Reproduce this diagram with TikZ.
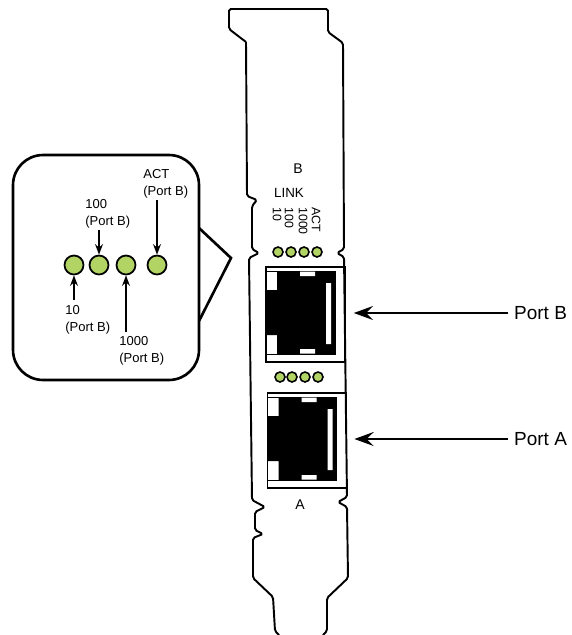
\documentclass[tikz,border=0pt]{standalone}
\usepackage{fontspec}
\setmainfont{Liberation Sans}
\usetikzlibrary{arrows.meta}

\definecolor{ledgreen}{RGB}{178,212,100}

\tikzset{
	card/.style={line width=1.1pt, line join=round, rounded corners=1pt},
	portbox/.style={draw, line width=1pt, minimum width=1.58cm, minimum height=1.9cm, inner sep=0},
	led/.style={circle, draw, line width=0.9pt, fill=ledgreen, minimum size=0.2cm, inner sep=0},
	bigled/.style={circle, draw, line width=1pt, fill=ledgreen, minimum size=0.38cm, inner sep=0},
	tag/.style={inner sep=0, align=left, font=\fontsize{7.4}{9.6}\selectfont},
	ledtag/.style={inner sep=0, rotate=-90, anchor=west, font=\fontsize{7}{8}\selectfont},
	ptr/.style={line width=1pt, -{Stealth[length=6pt, width=4.5pt, inset=2pt]}},
	portptr/.style={line width=1.1pt, -{Stealth[length=11pt, width=8pt, inset=4pt]}},
}

% one RJ45 jack, drawn inside a port box
\newcommand{\rjjack}[1]{%
	\begin{scope}[shift={(#1.north west)}]
		\draw[line width=0.6pt] (1,5) rectangle (70,88);
		\fill (12,5) -- (70,5) -- (70,88) -- (12,88) -- (12,69) -- (1,69) -- (1,24) -- (12,24) -- cycle;
		\fill[white] (35,5.5) rectangle (50,10) (35,83) rectangle (50,87.5) (61,17) rectangle (66,78);
	\end{scope}}

\begin{document}
\begin{tikzpicture}[x=0.02cm, y=-0.02cm]
	\useasboundingbox (0,0) rectangle (571,635);

	% bracket outline
	\draw[card] (246,42) -- (229,29) -- (229,9) -- (328,9) -- (328,32) -- (343,43)
		-- (344,249) -- (337,253) -- (344,257) -- (347,497) -- (338,502) -- (347,507)
		-- (348,578) -- (327,598) -- (327,631) -- (323,635);
	\draw[card] (246,42) -- (247,196) -- (257,200) -- (252,206) -- (252,249) -- (259,253) -- (249,258)
		-- (252,500) -- (265,507) -- (255,512) -- (255,530) -- (263,534) -- (253,538)
		-- (253,578) -- (273,597) -- (275,631) -- (279,635);

	\node[inner sep=0, font=\fontsize{8}{9}\selectfont] (labB) at (298,169) {B};
	\node[inner sep=0, font=\fontsize{7.6}{9}\selectfont] (link) at (289,193) {LINK};
	\node[ledtag] (s10) at (277,207) {10};
	\node[ledtag] (s100) at (289,207) {100};
	\node[ledtag] (s1000) at (303,207) {1000};
	\node[ledtag] (sact) at (316,207) {ACT};

	\foreach \i/\x in {1/278,2/291,3/304,4/317}
		\node[led] (b\i) at (\x,252) {};
	\foreach \i/\x in {1/280,2/292,3/305,4/318}
		\node[led] (a\i) at (\x,377) {};

	\node[portbox] (portB) at (305.5,314.5) {};
	\node[portbox] (portA) at (307,440.5) {};
	\rjjack{portB}
	\rjjack{portA}

	\node[inner sep=0, font=\fontsize{8}{9}\selectfont] (labA) at (300,505) {A};

	\node[anchor=west, font=\fontsize{10.8}{13}\selectfont] (nameB) at (508,313) {Port B};
	\node[anchor=west, font=\fontsize{10.8}{13}\selectfont] (nameA) at (508,439) {Port A};
	\draw[portptr, shorten >=4.5pt] (nameB.west) -- (nameB.west -| portB.east);
	\draw[portptr, shorten >=4pt] (nameA.west) -- (nameA.west -| portA.east);

	% zoomed view of the Port B LEDs
	\node[draw, line width=1.5pt, rounded corners=0.6cm, minimum width=3.72cm, minimum height=4.5cm] (zoombox) at (106,267.5) {};
	\draw[line width=1.5pt, line join=miter] (199,228) -- (231,258) -- (199,321);

	\foreach \i/\x in {1/74,2/99,3/126,4/157}
		\node[bigled] (z\i) at (\x,265) {};

	\node[tag, anchor=west] (tact) at (143,184) {ACT\\(Port B)};
	\node[tag, anchor=west] (t100) at (85,213.5) {100\\(Port B)};
	\node[tag, anchor=west] (t10) at (65,319.5) {10\\(Port B)};
	\node[tag, anchor=west] (t1000) at (119,350.5) {1000\\(Port B)};

	\coordinate (pact) at (157,200);
	\coordinate (p100) at (99,230);
	\coordinate (p10) at (74,300);
	\coordinate (p1000) at (126,332);
	\draw[ptr] (pact) -- (z4);
	\draw[ptr] (p100) -- (z2);
	\draw[ptr] (p10) -- (z1);
	\draw[ptr] (p1000) -- (z3);
\end{tikzpicture}
\end{document}
